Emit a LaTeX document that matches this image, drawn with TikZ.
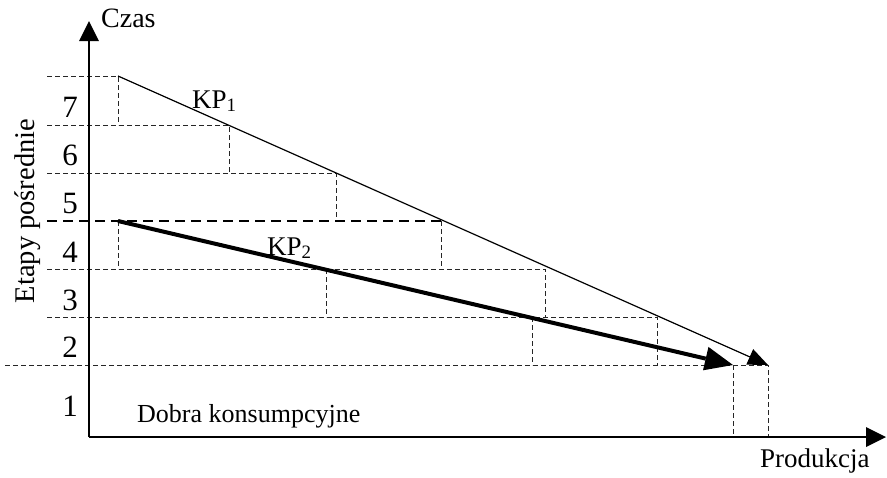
\documentclass[tikz,border=0pt]{standalone}
\usepackage{fontspec}
\setmainfont{Liberation Serif}
\usetikzlibrary{arrows.meta}
\begin{document}
\begin{tikzpicture}[x=1pt,y=-1pt,
  lbl/.style={inner sep=0pt, font=\fontsize{27}{30}\selectfont},
  num/.style={inner sep=0pt, font=\fontsize{31}{34}\selectfont},
  guide/.style={dash pattern=on 5pt off 3pt, line width=0.9pt, black!85},
  guidethick/.style={dash pattern=on 10pt off 6pt, line width=2.2pt},
  axis/.style={line width=1.6pt, -{Triangle[length=20pt,width=20pt,line width=0pt]}},
  kpone/.style={line width=1.2pt, -{Triangle[length=20pt,width=17pt,line width=0pt]}},
  kptwo/.style={line width=4pt, -{Triangle[length=28pt,width=24pt,line width=0pt]}}]
\useasboundingbox (0,0) rectangle (887,477);
% axes
\coordinate (O) at (89,437);
\coordinate (ytip) at (89,21);
\coordinate (xtip) at (886,437);
% KP1 stage points
\coordinate (a1) at (118,76);
\coordinate (a2) at (229,125);
\coordinate (a3) at (336,173);
\coordinate (a4) at (441,221);
\coordinate (a5) at (545,269);
\coordinate (a6) at (657,317);
\coordinate (a7) at (768,365);
% KP2 stage points
\coordinate (b1) at (118,221);
\coordinate (b2) at (326,269);
\coordinate (b3) at (532,317);
\coordinate (b4) at (733,365);
% left ends of level lines
\coordinate (l1) at (47,76);
\coordinate (l2) at (47,125);
\coordinate (l3) at (47,173);
\coordinate (l4) at (47,221);
\coordinate (l5) at (47,269);
\coordinate (l6) at (47,317);
\coordinate (l7) at (5,365);
% feet on x-axis
\coordinate (fa) at (768,437);
\coordinate (fb) at (733,437);

% dashed guides
\draw[guide] (l1) -- (a1) -- (118,125);
\draw[guide] (l2) -- (a2) -- (229,173);
\draw[guide] (l3) -- (a3) -- (336,221);
\draw[guidethick] (l4) -- (a4);
\draw[guide] (a4) -- (441,269);
\draw[guide] (l5) -- (a5) -- (545,317);
\draw[guide] (l6) -- (a6) -- (657,365);
\draw[guide] (l7) -- (a7) -- (fa);
\draw[guide] (b1) -- (118,269);
\draw[guide] (b2) -- (326,317);
\draw[guide] (b3) -- (532,365);
\draw[guide] (b4) -- (fb);

% axes
\draw[axis] (O) -- (ytip);
\draw[axis] (O) -- (xtip);

% production paths
\draw[kpone] (a1) -- (a7);
\draw[kptwo] (b1) -- (b4);

% labels
\node[lbl, anchor=base west, font=\fontsize{28}{30}\selectfont] (czas) at (101,27) {Czas};
\node[num] (n7) at (70,107) {7};
\node[num] (n6) at (70,155) {6};
\node[num] (n5) at (70,203) {5};
\node[num] (n4) at (70,252) {4};
\node[num] (n3) at (70,300) {3};
\node[num] (n2) at (70,347) {2};
\node[num] (n1) at (70,406) {1};
\node[lbl, rotate=90, font=\fontsize{28.5}{30}\selectfont] (etapy) at (28,211) {Etapy pośrednie};
\node[lbl, anchor=base west] (kp1) at (192,108) {KP\textsubscript{1}};
\node[lbl, anchor=base west] (kp2) at (267,255) {KP\textsubscript{2}};
\node[lbl, anchor=base west, font=\fontsize{26}{30}\selectfont] (dobra) at (137,422) {Dobra konsumpcyjne};
\node[lbl, anchor=base west] (prod) at (760,467) {Produkcja};
\end{tikzpicture}
\end{document}
